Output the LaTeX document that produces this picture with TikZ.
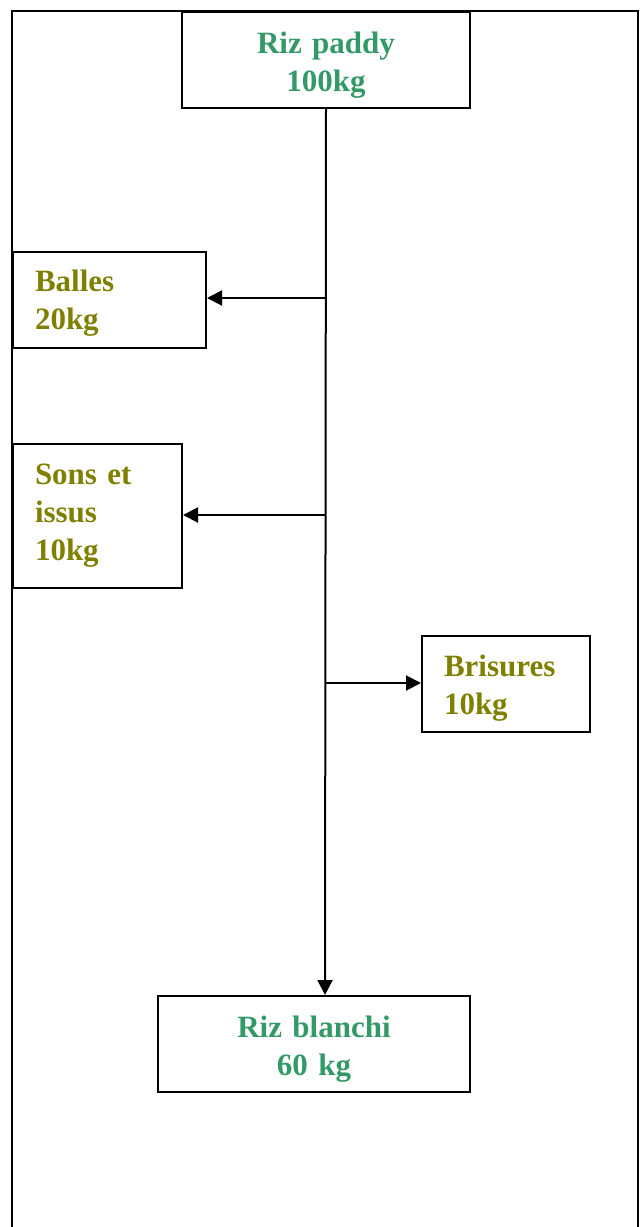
\documentclass[tikz,border=0pt]{standalone}
\usepackage{fontspec}
\setmainfont{Liberation Serif}
\usetikzlibrary{arrows.meta}
\definecolor{seagreen}{HTML}{339966}
\definecolor{olivetxt}{HTML}{808000}
\begin{document}
\begin{tikzpicture}[x=1pt,y=-1pt,
  box/.style={draw=black, line width=2pt, inner ysep=0pt, font=\fontsize{31}{38}\selectfont\bfseries},
  gbox/.style={box, text=seagreen, align=center},
  obox/.style={box, text=olivetxt, align=left, inner xsep=22pt},
  topgap/.style={execute at begin node={\vrule height \dimexpr 21pt+#1\relax width 0pt}},
  conn/.style={line width=2pt},
  arr/.style={conn, -{Triangle[length=15pt,width=15pt]}}]
\useasboundingbox (0,0) rectangle (642,1227);
% outer frame (open at the bottom)
\draw[conn] (12,1230) -- (12,11) -- (638,11) -- (638,1230);
% nodes
\node[gbox, topgap=10pt, anchor=north west, minimum width=288pt, minimum height=96pt, text width=280pt] (paddy) at (181,11) {Riz paddy\\100kg};
\node[obox, topgap=6pt, anchor=north west, minimum width=193pt, minimum height=96pt, text width=149pt] (balles) at (12,251) {Balles\\20kg};
\node[obox, anchor=north west, minimum width=169pt, minimum height=144pt, text width=125pt] (sons) at (12,443) {Sons et\\issus\\10kg};
\node[obox, topgap=8pt, anchor=north west, minimum width=168pt, minimum height=96pt, text width=124pt] (bris) at (421,635) {Brisures\\10kg};
\node[gbox, topgap=10pt, anchor=north west, minimum width=312pt, minimum height=96pt, text width=300pt] (blanc) at (157,995) {Riz blanchi\\60 kg};
% branch points
\coordinate (c1) at (325,298);
\coordinate (c2) at (325,515);
\coordinate (c3) at (325,683);
\coordinate (cb) at (325,995);
% connectors
\draw[arr] (paddy.south) -- (cb);
\draw[arr] (c1) -- (c1 -| balles.east);
\draw[arr] (c2) -- (c2 -| sons.east);
\draw[arr] (c3) -- (c3 -| bris.west);
\end{tikzpicture}
\end{document}
